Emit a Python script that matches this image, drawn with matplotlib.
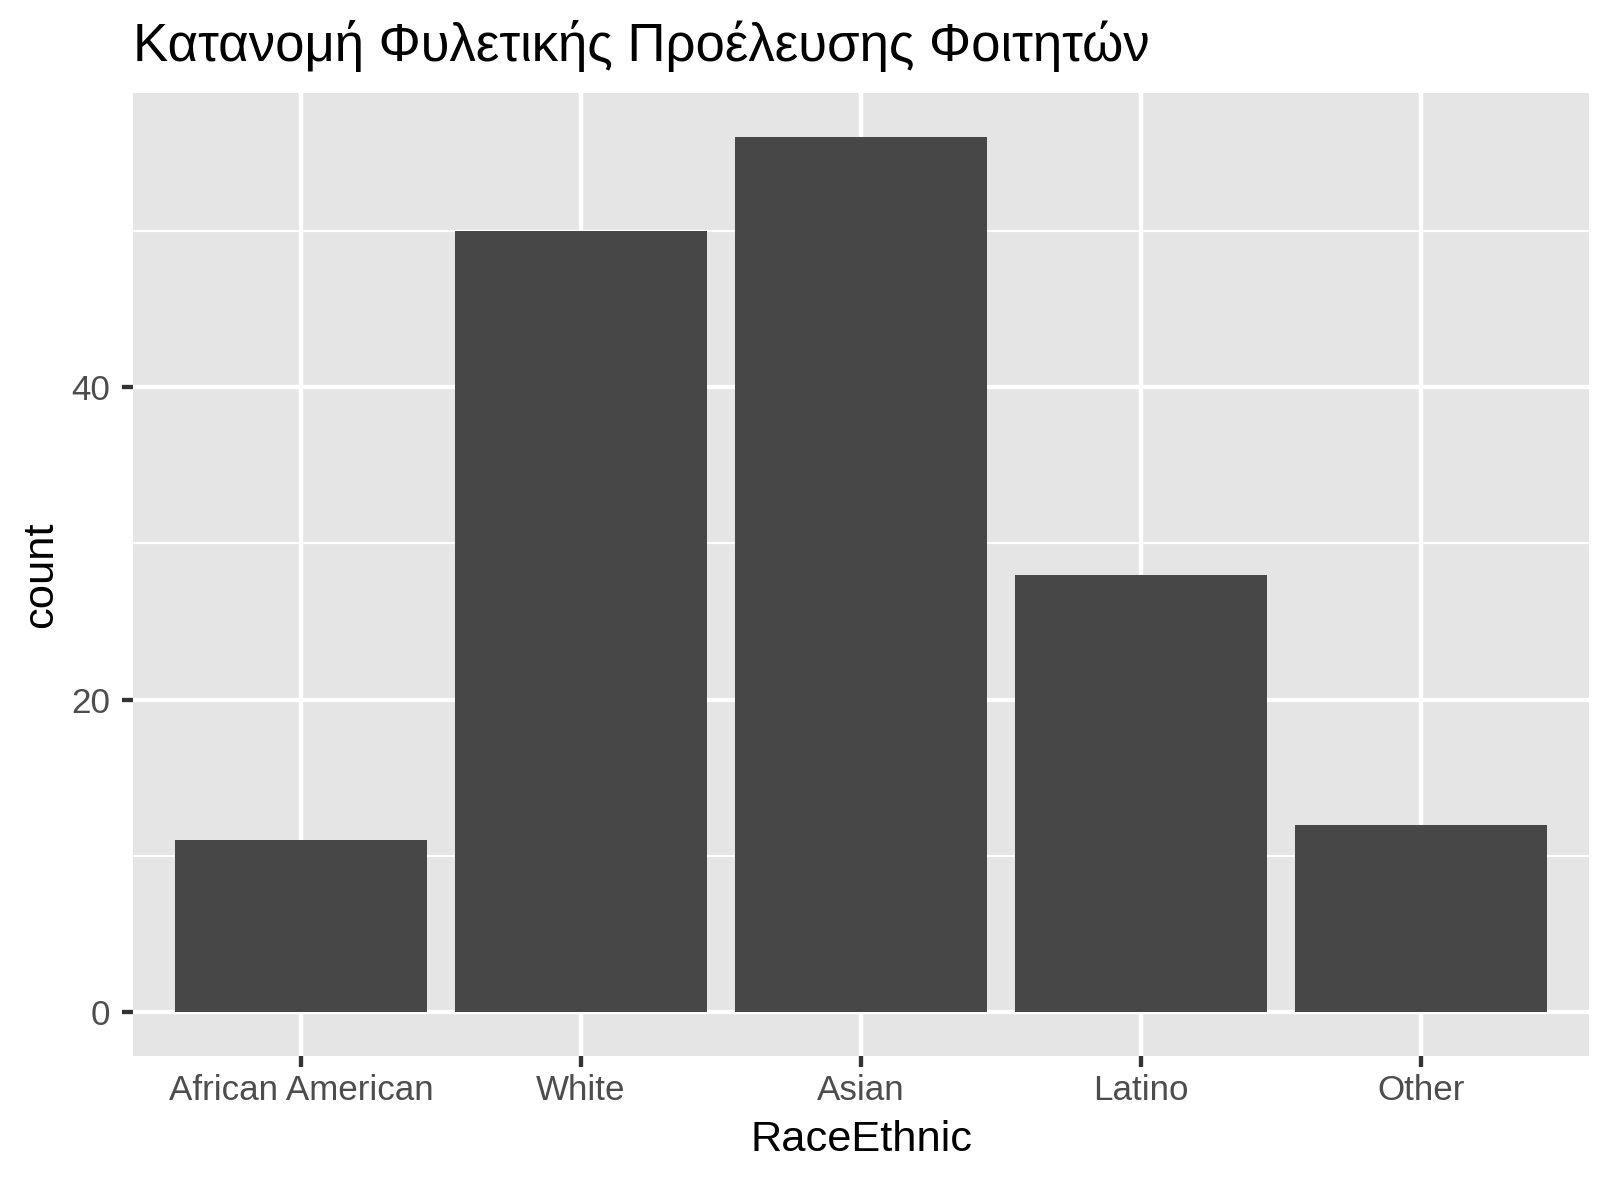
import matplotlib
matplotlib.use("Agg")
import matplotlib.pyplot as plt
import numpy as np

categories = ["African American", "White", "Asian", "Latino", "Other"]
counts = [11, 50, 56, 28, 12]
y_major = [0, 20, 40]
y_minor = [10, 30, 50]
title = "Κατανομή Φυλετικής Προέλευσης Φοιτητών"
xlabel = "RaceEthnic"
ylabel = "count"

plt.rcParams['font.family'] = ['Liberation Sans', 'DejaVu Sans']

W, H = 1611, 1182
fig = plt.figure(figsize=(W / 100, H / 100), dpi=100)
left, right, top, bottom = 133 / W, 1589 / W, 1 - 93 / H, 1 - 1056 / H
ax = fig.add_axes([left, bottom, right - left, top - bottom])

ax.set_facecolor("#E5E5E5")
for s in ax.spines.values():
    s.set_visible(False)

x = np.arange(1, len(categories) + 1)
ax.set_axisbelow(True)
for v in y_minor:
    ax.axhline(v, color="white", lw=1.55, zorder=0.5)
for v in y_major:
    ax.axhline(v, color="white", lw=3.1, zorder=0.6)
for xv in x:
    ax.axvline(xv, color="white", lw=3.1, zorder=0.6)

ax.bar(x, counts, width=0.9, color="#474747", zorder=2)

ymax = max(counts)
ax.set_ylim(-0.05 * ymax, ymax * 1.05)
ax.set_xlim(0.4, len(categories) + 0.6)
ax.set_xticks(x)
ax.set_xticklabels(categories)
ax.set_yticks(y_major)
ax.set_yticklabels([str(v) for v in y_major])

ax.tick_params(axis="both", which="major", length=7.9, width=3.1, color="#333333",
               labelsize=25.2, labelcolor="#4D4D4D")
ax.tick_params(axis="x", pad=5.3)
ax.tick_params(axis="y", pad=8.4)

fig.text(133 / W, 1 - 60.7 / H, title, fontsize=38, color="black",
         ha="left", va="baseline")
fig.text((133 + 1589) / 2 / W, 1 - 1150.7 / H, xlabel, fontsize=31.2, color="black",
         ha="center", va="baseline")
fig.text(52 / W, 1 - 574.5 / H, ylabel, fontsize=31.2, color="black",
         ha="center", va="baseline", rotation=90, rotation_mode="anchor")

fig.savefig("out.png", dpi=100)
